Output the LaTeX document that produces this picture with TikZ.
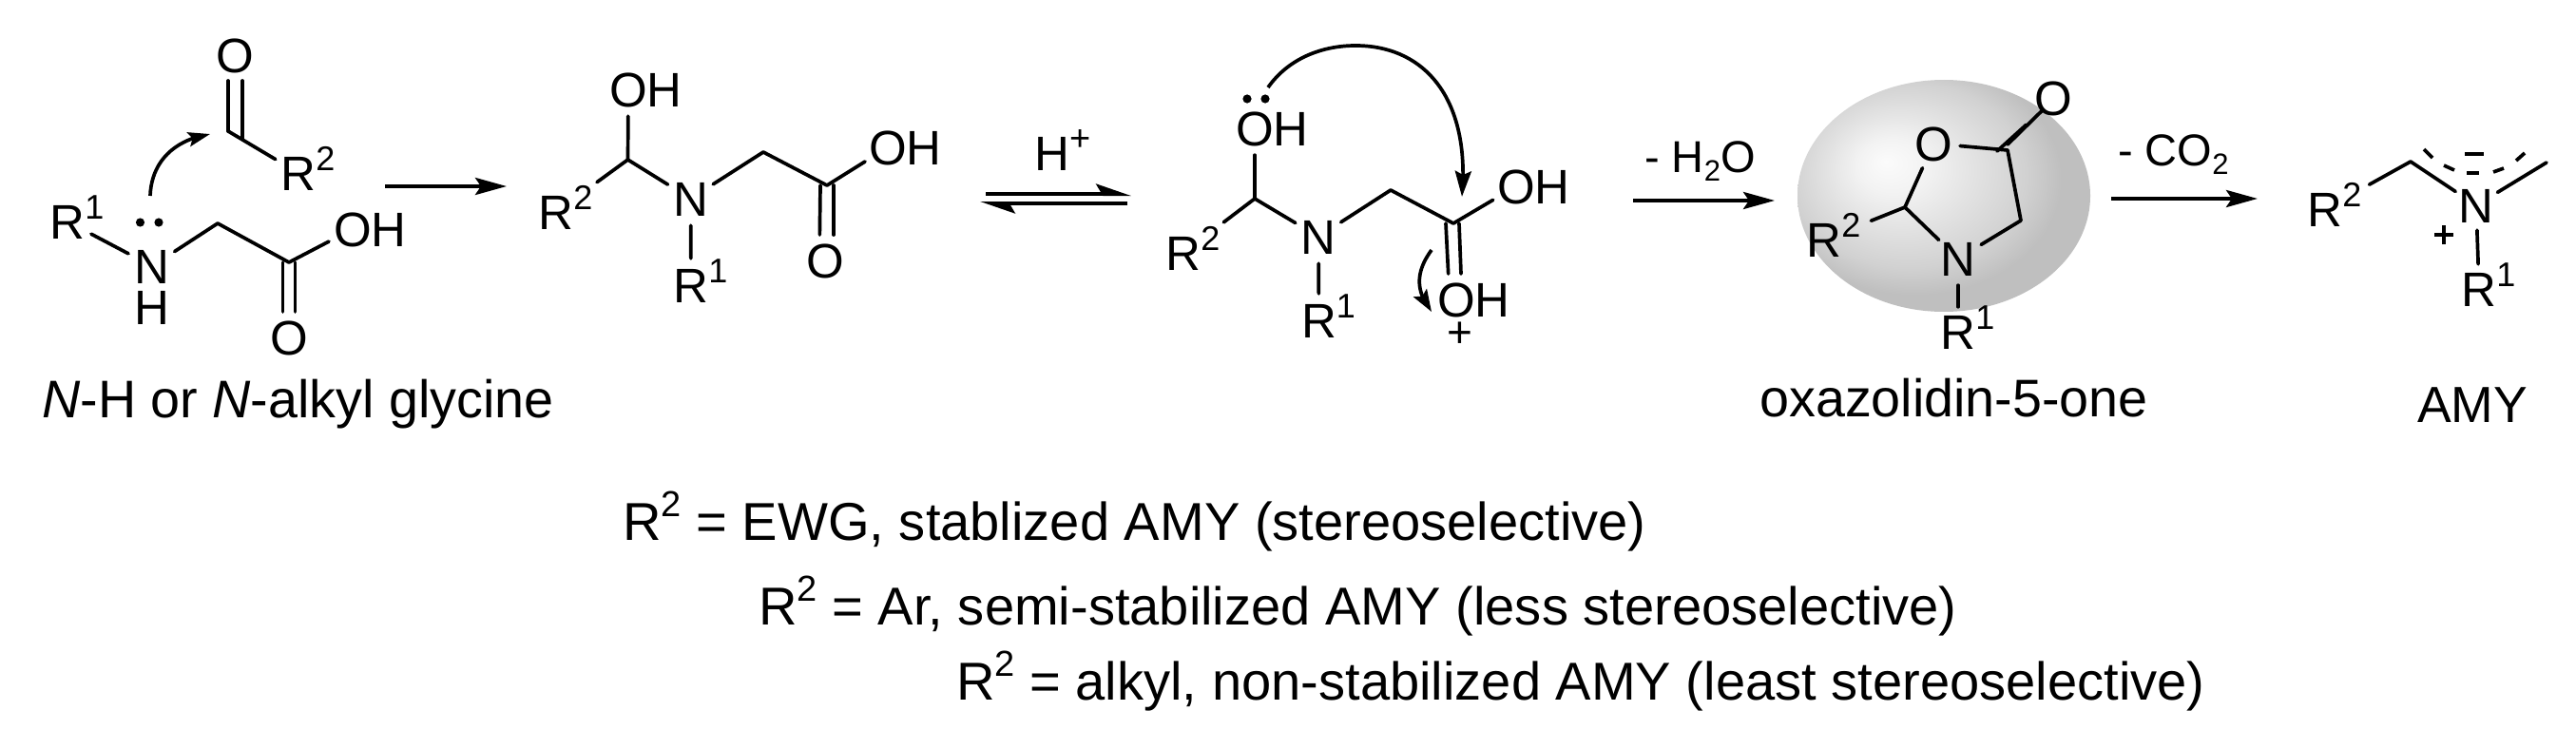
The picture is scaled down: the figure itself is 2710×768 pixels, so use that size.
\documentclass[tikz,border=0pt]{standalone}
\usepackage{fontspec}
\setmainfont{Liberation Sans}
\usetikzlibrary{arrows.meta,bending,shapes.geometric}
\pgfdeclareradialshading{molball}{\pgfqpoint{-10bp}{7.4bp}}{gray(0bp)=(.985);gray(6bp)=(.95);gray(14bp)=(.875);gray(20bp)=(.82);gray(25bp)=(.75);gray(50bp)=(.75)}
\newcommand{\supz}[1]{\rlap{\raisebox{21pt}{\fontsize{36}{36}\selectfont #1}}}
\newcommand{\subz}[1]{\raisebox{-9pt}{\fontsize{31}{31}\selectfont #1}}
\newcommand{\supl}[1]{\raisebox{25pt}{\fontsize{38}{38}\selectfont #1}}
\tikzset{
  chembond/.style={line width=3.7pt,line cap=round,line join=round},
  dblbond/.style={chembond,shorten >=27pt},
  atomlbl/.style={circle,inner sep=0pt,minimum size=56pt,text height=37pt,text depth=0pt,font=\fontsize{51}{51}\selectfont},
  farlbl/.style={atomlbl,minimum size=106pt},
  caption/.style={inner sep=0pt,anchor=base west,font=\fontsize{55.7}{55.7}\selectfont},
  notetxt/.style={caption,font=\fontsize{56.1}{56.1}\selectfont},
  cond/.style={inner sep=0pt,anchor=base west,font=\fontsize{47}{47}\selectfont},
  rxn/.style={line width=4pt,-{Stealth[length=33pt,width=18pt,inset=6pt]}},
  curly/.style={line width=3.7pt,-{Stealth[length=25pt,width=15pt,inset=5pt]}},
  halfup/.style={line width=4pt,-{Stealth[harpoon,length=31pt,width=21pt,inset=6pt]}},
  lonepair/.style={fill=black}
}
\begin{document}
\begin{tikzpicture}[x=1pt,y=-1pt]
\useasboundingbox (0,0) rectangle (2710,768);
\fill[white] (0,0) rectangle (2710,768);

% ---------- N-H or N-alkyl glycine + carbonyl
\node[atomlbl] (aO) at (247,58) {O};
\coordinate (aC) at (240,138);
\node[atomlbl] (aR2) at (314,182) {R\supz{2}};
\draw[chembond] (aC) -- (aR2);
\draw[dblbond] (aC) -- ([xshift=-7pt]aO.center);
\draw[dblbond] ([xshift=15pt,yshift=-8pt]aC) -- ([xshift=8pt]aO.center);
\node[atomlbl] (aR1) at (71,233) {R\supz{1}};
\node[atomlbl] (aN) at (160,280) {N};
\node[atomlbl] (aH) at (160,323) {H};
\coordinate (aCH) at (229,235);
\coordinate (aCO) at (304,276);
\node[atomlbl] (aOH) at (371,241) {O\rlap{H}};
\node[atomlbl] (aO2) at (304,355) {O};
\draw[chembond] (aR1) -- (aN);
\draw[chembond] (aN) -- (aCH) -- (aCO) -- (aOH);
\draw[dblbond] ([xshift=-6.5pt]aCO) -- ([xshift=-6.5pt]aO2.center);
\draw[dblbond] ([xshift=6.5pt]aCO) -- ([xshift=6.5pt]aO2.center);
\fill[lonepair] (147.5,234) circle (4.6pt);
\fill[lonepair] (167,234) circle (4.6pt);
\coordinate (aArrS) at (158,206);
\coordinate (aArrE) at (221,141);
\draw[curly,-{Stealth[length=23pt,width=15pt,inset=4pt]}] (aArrS) .. controls (159,175) and (178,148) .. (aArrE);
\node[caption] (aCap) at (44,439) {\textit{N}-H or \textit{N}-alkyl glycine};

\coordinate (r1s) at (405,196);
\coordinate (r1e) at (533,196);
\draw[rxn] (r1s) -- (r1e);

% ---------- hemiaminal
\coordinate (bC) at (660.5,168);
\coordinate (bCH) at (803,160);
\coordinate (bCO) at (870,195);
\node[atomlbl] (bOH) at (661,94) {O\rlap{H}};
\node[farlbl] (bR2) at (585,223) {R\supz{2}};
\node[atomlbl] (bN) at (726.5,209) {N};
\node[atomlbl] (bR1) at (727,300) {R\supz{1}};
\node[atomlbl] (bOH2) at (934,155) {O\rlap{H}};
\node[atomlbl] (bO) at (868,274) {O};
\draw[chembond] (bOH) -- (bC);
\draw[chembond] (bC) -- (bR2);
\draw[chembond] (bC) -- (bN);
\draw[chembond] (bN) -- (bR1);
\draw[chembond] (bN) -- (bCH) -- (bCO) -- (bOH2);
\draw[dblbond] ([xshift=-7pt]bCO) -- ([xshift=-6pt]bO.center);
\draw[dblbond] ([xshift=7pt]bCO) -- ([xshift=9pt]bO.center);

% ---------- equilibrium
\node[atomlbl] (eqH) at (1107,161) {H\rlap{\raisebox{21pt}{\fontsize{38}{38}\selectfont +}}};
\coordinate (eq1s) at (1037,204);
\coordinate (eq1e) at (1190,204);
\coordinate (eq2s) at (1186,214);
\coordinate (eq2e) at (1031,214);
\draw[halfup] (eq1s) -- (eq1e);
\draw[halfup] (eq2s) -- (eq2e);

% ---------- protonated
\coordinate (cC) at (1320,209);
\coordinate (cCH) at (1463,200);
\coordinate (cCO) at (1529,235);
\node[atomlbl] (cOH) at (1320,135) {O\rlap{H}};
\node[farlbl] (cR2) at (1245,266) {R\supz{2}};
\node[atomlbl] (cN) at (1387,249) {N};
\node[atomlbl] (cR1) at (1387.5,337) {R\supz{1}};
\node[atomlbl] (cOH2) at (1595,196) {O\rlap{H}};
\node[atomlbl] (cOH3) at (1532,315) {O\rlap{H}};
\node[atomlbl,text height=18pt,font=\fontsize{46}{46}\selectfont] (cPl) at (1536,356) {+};
\draw[chembond] (cOH) -- (cC);
\draw[chembond] (cC) -- (cR2);
\draw[chembond] (cC) -- (cN);
\draw[chembond] (cN) -- (cR1);
\draw[chembond] (cN) -- (cCH) -- (cCO) -- (cOH2);
\draw[dblbond] ([xshift=-8pt]cCO) -- ([xshift=-7pt]cOH3.center);
\draw[dblbond] ([xshift=6pt]cCO) -- ([xshift=6pt]cOH3.center);
\fill[lonepair] (1312,104) circle (4.6pt);
\fill[lonepair] (1331,104) circle (4.6pt);
\coordinate (cA1s) at (1334,92);
\coordinate (cA1m) at (1426,48);
\coordinate (cA1e) at (1538,207);
\draw[curly,-{Stealth[length=27pt,width=17pt,inset=4pt]}] (cA1s) .. controls (1355,62) and (1390,48) .. (cA1m) .. controls (1500,48) and (1547,105) .. (cA1e);
\coordinate (cA2s) at (1506,263);
\coordinate (cA2e) at (1506,328);
\draw[curly,-{Stealth[length=23pt,width=16pt,inset=4pt]}] (cA2s) .. controls (1490,285) and (1488,305) .. (cA2e);

\node[cond] (condA) at (1730,181) {- H\subz{2}O};
\coordinate (r2s) at (1718,211);
\coordinate (r2e) at (1867,211);
\draw[rxn] (r2s) -- (r2e);

% ---------- oxazolidinone
\shade[shading=molball] (2045,206) ellipse [x radius=154pt,y radius=122pt];
\coordinate (dCO) at (2112,158);
\coordinate (dCH2) at (2126,232);
\coordinate (dCH) at (2004,218);
\node[atomlbl] (dO) at (2160,103) {O};
\node[atomlbl] (dOr) at (2034,151) {O};
\node[atomlbl] (dN) at (2060,272) {N};
\node[farlbl] (dR2) at (1919,252) {R\supz{2}};
\node[atomlbl,minimum size=50pt] (dR1) at (2060,349) {R\supz{1}};
\draw[chembond] (dOr) -- (dCO) -- (dCH2) -- (dN) -- (dCH) -- (dOr);
\draw[chembond] (dCH) -- (dR2);
\draw[chembond] (dN) -- (dR1);
\draw[dblbond,shorten >=30pt] ([xshift=-11pt,yshift=-1pt]dCO) -- ([xshift=-6pt,yshift=-8pt]dO.center);
\draw[dblbond,shorten >=26pt] ([yshift=6pt]dCO) -- ([xshift=7pt,yshift=5pt]dO.center);
\node[caption] (dCap) at (1851,438) {oxazolidin-5-one};

\node[cond] (condB) at (2228,174) {- CO\subz{2}};
\coordinate (r3s) at (2221,209);
\coordinate (r3e) at (2375,209);
\draw[rxn] (r3s) -- (r3e);

% ---------- azomethine ylide
\coordinate (eC1) at (2536,170);
\coordinate (eC2) at (2679,171);
\node[farlbl] (eR2) at (2446,220) {R\supz{2}};
\node[atomlbl,minimum size=50pt] (eN) at (2605,216) {N};
\node[atomlbl,minimum size=50pt] (eR1) at (2608,304) {R\supz{1}};
\draw[chembond] (eR2) -- (eC1) -- (eN) -- (eC2);
\draw[chembond] (eN) -- (eR1);
\draw[chembond,line cap=butt] (2550,157) -- (2559,166);
\draw[chembond,line cap=butt] (2571,174) -- (2582,179);
\draw[chembond,line cap=butt] (2595,182) -- (2608,182);
\draw[chembond,line cap=butt] (2623,181) -- (2634,177);
\draw[chembond,line cap=butt] (2647,169) -- (2656,161);
\draw[chembond,line cap=butt] (2593,162) -- (2613,162);
\draw[chembond,line cap=butt] (2561,247) -- (2581,247);
\draw[chembond,line cap=butt] (2571,237) -- (2571,257);
\node[caption,font=\fontsize{53.5}{53.5}\selectfont] (eCap) at (2543,444) {AMY};

% ---------- notes
\node[notetxt] (n1) at (655,568) {R\supl{2} = EWG, stablized AMY (stereoselective)};
\node[notetxt] (n2) at (798,657) {R\supl{2} = Ar, semi-stabilized AMY (less stereoselective)};
\node[notetxt] (n3) at (1006,736) {R\supl{2} = alkyl, non-stabilized AMY (least stereoselective)};
\end{tikzpicture}
\end{document}
